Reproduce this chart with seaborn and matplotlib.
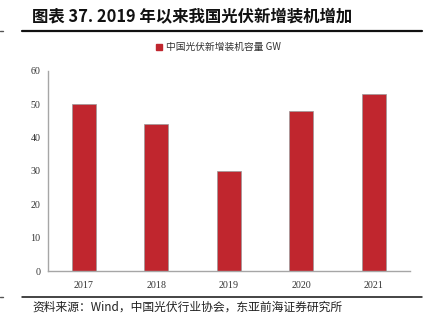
import matplotlib
matplotlib.use("Agg")
import matplotlib.pyplot as plt
import seaborn as sns
import pandas as pd
from matplotlib.lines import Line2D
from matplotlib.patches import Patch

years = ["2017", "2018", "2019", "2020", "2021"]
values = [50, 44, 30, 48, 53]
series_name = "中国光伏新增装机容量 GW"
title = "图表 37. 2019 年以来我国光伏新增装机增加"
source = "资料来源：Wind，中国光伏行业协会，东亚前海证券研究所"
yticks = [0, 10, 20, 30, 40, 50, 60]

sns.set_theme(style="white")
plt.rcParams['font.family'] = ['Noto Sans CJK SC', 'DejaVu Sans']

df = pd.DataFrame({"year": years, "value": values})
color = "#C0262E"

fig = plt.figure(figsize=(4.28, 3.33), dpi=100)
ax = fig.add_axes([0.111, 0.186, 0.847, 0.602])
sns.barplot(data=df, x="year", y="value", color=color, width=0.33,
            edgecolor="#999999", linewidth=0.5, saturation=1, ax=ax)
ax.set_ylim(0, 60)
ax.set_yticks(yticks)
ax.set_xlim(-0.5, 4.5)
ax.set_xlabel("")
ax.set_ylabel("")
for s in ["top", "right"]:
    ax.spines[s].set_visible(False)
for s in ["left", "bottom"]:
    ax.spines[s].set_color("#a6a6a6")
    ax.spines[s].set_linewidth(1.0)
ax.tick_params(axis="y", direction="in", length=3, width=0.8, color="#a6a6a6",
               labelsize=7.2, labelcolor="#333333", pad=5)
ax.tick_params(axis="x", length=0, labelsize=7.2, labelcolor="#333333", pad=7)
for lab in ax.get_yticklabels() + ax.get_xticklabels():
    lab.set_family(['Liberation Serif', 'DejaVu Serif'])

# legend
handle = Patch(facecolor=color, edgecolor=color)
leg = fig.legend([handle], [series_name], loc="center", bbox_to_anchor=(0.51, 0.858),
                 frameon=False, fontsize=7.0, handlelength=0.6, handleheight=0.6,
                 handletextpad=0.4)
for t in leg.get_texts():
    t.set_color("#333333")

# title
fig.text(0.075, 0.948, title, fontsize=11.8, fontweight="bold", ha="left", va="center",
         color="#111111")
fig.add_artist(Line2D([0.051, 0.986], [0.907, 0.907], color="#111111", lw=1.6,
                      transform=fig.transFigure))
fig.add_artist(Line2D([0.0, 0.008], [0.907, 0.907], color="#555555", lw=1.0,
                      transform=fig.transFigure))

# bottom rule and source
fig.add_artist(Line2D([0.051, 0.986], [0.108, 0.108], color="#111111", lw=1.1,
                      transform=fig.transFigure))
fig.add_artist(Line2D([0.0, 0.008], [0.108, 0.108], color="#555555", lw=1.0,
                      transform=fig.transFigure))
fig.text(0.075, 0.079, source, fontsize=8.5, ha="left", va="center", color="#222222")

fig.savefig("out.png", dpi=100)
